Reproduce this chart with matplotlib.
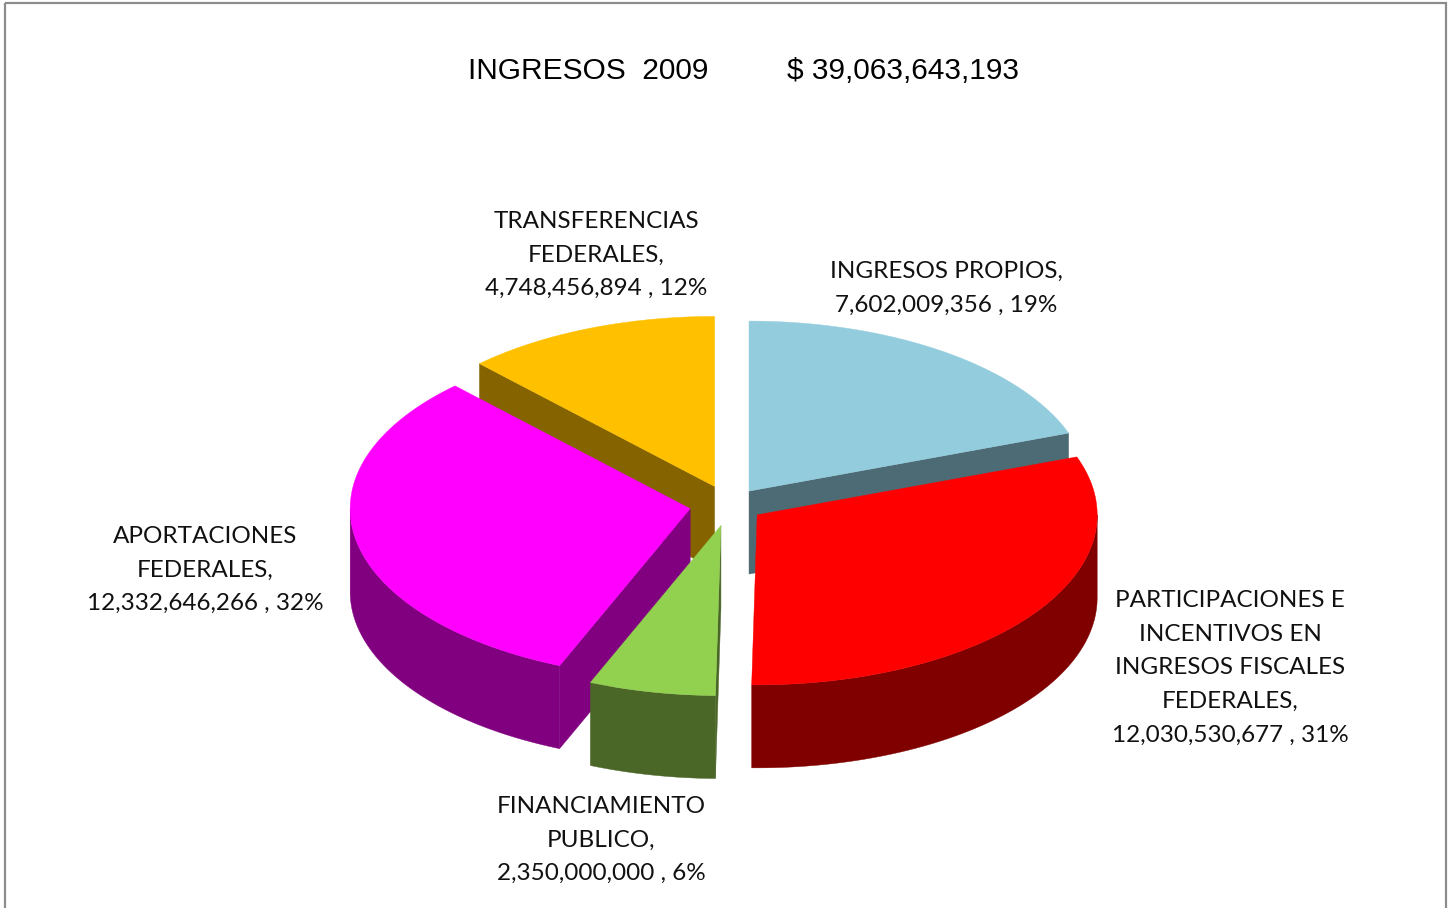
#!/bin/python3

import numpy as np
import matplotlib
matplotlib.use("Agg")
import matplotlib.pyplot as plt
from matplotlib.patches import Rectangle

titleLeft = "INGRESOS  2009"
total = 39063643193
names = ["INGRESOS PROPIOS,",
         "PARTICIPACIONES E\nINCENTIVOS EN\nINGRESOS FISCALES\nFEDERALES,",
         "FINANCIAMIENTO\nPUBLICO,",
         "APORTACIONES\nFEDERALES,",
         "TRANSFERENCIAS\nFEDERALES,"]
values = [7602009356, 12030530677, 2350000000, 12332646266, 4748456894]
topColors = ["#93CDDD", "#FF0000", "#92D050", "#FF00FF", "#FFC000"]
sideColors = ["#4D6B75", "#800000", "#4A6728", "#800080", "#856400"]
explode = [34, 34, 42, 40, 40]
labelPos = [(946, 288), (1230, 668), (601, 840), (205, 570), (596, 255)]
drawOrder = [4, 0, 3, 1, 2]

cx, cy = 729.5, 505
rx, ry = 340, 170
depth = 83


def point(theta, ox, oy):
    return ox + rx*np.sin(theta), oy - ry*np.cos(theta)


def drawSide(ax, a, b, ox, oy, color, zorder):
    """Draws the outer wall of a slice between two angles"""
    a, b = max(a, np.pi/2), min(b, 3*np.pi/2)
    if a >= b:
        return
    t = np.linspace(a, b, 150)
    x, y = point(t, ox, oy)
    xs = np.concatenate([x, x[::-1]])
    ys = np.concatenate([y, y[::-1] + depth])
    ax.fill(xs, ys, color=color, lw=0.3, zorder=zorder)


def drawCut(ax, theta, ox, oy, color, zorder):
    """Draws the flat cut face from the centre out to one edge"""
    x, y = point(theta, ox, oy)
    ax.fill([ox, x, x, ox], [oy, y, y+depth, oy+depth], color=color, lw=0.3, zorder=zorder)


fig = plt.figure(figsize=(14.55, 9.08), dpi=100)
ax = fig.add_axes([0, 0, 1, 1])
ax.set_xlim(0, 1455)
ax.set_ylim(908, 0)
ax.axis("off")

ax.add_patch(Rectangle((5, 3), 1441, 930, fill=False, ec="#8C8C8C", lw=1.6, zorder=0))

ax.text(468, 71, titleLeft, family="Liberation Sans", fontsize=21.5, va="center", ha="left", color="black")
ax.text(787, 71, "$ {:,}".format(total), family="Liberation Sans", fontsize=21.5, va="center", ha="left", color="black")

fractions = np.array(values) / sum(values)
edges = np.concatenate([[0], np.cumsum(fractions)]) * 2*np.pi

z = 1
for i in drawOrder:
    a, b = edges[i], edges[i+1]
    mid = (a + b) / 2
    ox = cx + explode[i]*np.sin(mid)
    oy = cy - explode[i]*0.5*np.cos(mid)

    # cut faces turned towards the viewer
    if np.cos(a) < 0 or np.sin(a) < 0:
        if np.sin(a) < 0 or a > np.pi/2:
            drawCut(ax, a, ox, oy, sideColors[i], z)
    if 0 < b < np.pi/2:
        drawCut(ax, b, ox, oy, sideColors[i], z)
    drawSide(ax, a, b, ox, oy, sideColors[i], z+1)

    t = np.linspace(a, b, 200)
    x, y = point(t, ox, oy)
    ax.fill(np.r_[ox, x], np.r_[oy, y], color=topColors[i], lw=0.3, zorder=z+2)
    z += 3

for i in range(len(values)):
    pct = round(values[i] / sum(values) * 100)
    text = "%s\n%s , %d%%" % (names[i], "{:,}".format(values[i]), pct)
    ax.text(labelPos[i][0], labelPos[i][1], text, family="Lato", fontsize=17.5, ha="center", va="center",
            linespacing=1.75, color="#111111", zorder=50)

fig.savefig("out.png", dpi=100)
